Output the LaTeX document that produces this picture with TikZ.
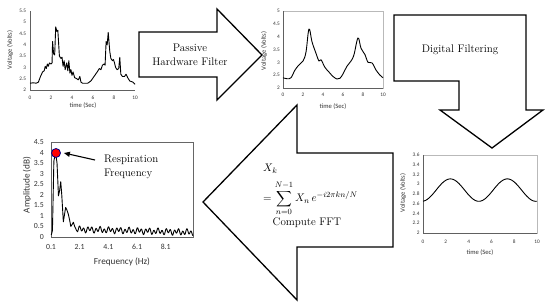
\documentclass[tikz,border=0pt]{standalone}
\usepackage{fontspec}
\setsansfont{Carlito}
\usepackage{amsmath}
\usetikzlibrary{arrows.meta}

\tikzset{
  bigarrow/.style={draw=black, line width=1.3pt, line join=miter},
  signal/.style={line width=0.9pt, line join=round},
  axline/.style={draw=gray!75!black, line width=0.5pt},
  framebox/.style={draw=gray!55, line width=0.6pt},
  ticklab/.style={font=\sffamily\fontsize{5.3}{6}\selectfont, inner sep=0.5pt, text=black!80},
  axtitle/.style={font=\sffamily\fontsize{6.6}{7}\selectfont, inner sep=0pt, text=black!80},
  bigtick/.style={ticklab, font=\sffamily\fontsize{7.8}{8}\selectfont},
  bigtitle/.style={axtitle, font=\sffamily\fontsize{9.2}{10}\selectfont},
  steptext/.style={font=\fontsize{11}{14}\selectfont, align=center, inner sep=0pt},
  mathtext/.style={anchor=west, inner sep=0pt, font=\fontsize{10.8}{13}\selectfont},
}

\begin{document}
\begin{tikzpicture}[x=1pt, y=-1pt]
    \useasboundingbox (0,0) rectangle (550,305);

    % process arrows
    \draw[bigarrow] (139,32) -- (217,32) -- (217,9) -- (262,55) -- (217,100) -- (217,77) -- (139,77) -- cycle;
    \node[steptext] (hwf) at (190,55) {Passive\\Hardware Filter};
    \draw[bigarrow] (394,15) -- (526,15) -- (526,110) -- (543,110) -- (492,148) -- (440,110) -- (459,110) -- (459,81) -- (394,81) -- cycle;
    \node[steptext] (dsp) at (460,50) {Digital Filtering};
    \draw[bigarrow] (393,153) -- (393,247) -- (297,247) -- (297,300) -- (203,202) -- (297,105) -- (297,153) -- cycle;
    \node[mathtext] (xk) at (263,169) {$X_k$};
    \node[mathtext] (dft) at (263,198.5) {$\displaystyle = \sum_{n=0}^{N-1} X_n\, e^{-i2\pi kn/N}$};
    \node[steptext] (fft) at (307,222.5) {Compute FFT};

    % raw signal
    \begin{scope}[shift={(30,135.14)}, x=10.5pt, y=22.57pt]
        \draw[axline] (0,5.5) -- (0,2) -- (10,2);
        \foreach \v [count=\i] in {2,2.5,3,3.5,4,4.5,5,5.5}
            \node[ticklab, anchor=east] (ay\i) at (-0.3,\v) {\v};
        \foreach \t in {0,2,...,10}
            \node[ticklab, anchor=north] (ax\t) at (\t,1.75) {\t};
        \draw[signal] plot coordinates {(0,2.3) (0.3,2.32) (0.6,2.3) (0.8,2.35) (1.0,2.6) (1.2,2.8) (1.35,2.85) (1.45,3.05) (1.55,2.95) (1.65,3.15) (1.75,3.05) (1.85,3.2) (2.0,3.15) (2.1,3.2) (2.15,4.15) (2.25,3.6) (2.35,3.55) (2.45,4.8) (2.55,4.6) (2.65,4.65) (2.8,3.5) (2.95,3.4) (3.05,3.45) (3.15,3.05) (3.25,3.3) (3.35,2.9) (3.5,3.2) (3.6,2.85) (3.7,3.3) (3.8,2.75) (3.9,2.9) (4.0,2.65) (4.1,2.8) (4.25,2.55) (4.45,2.5) (4.6,2.45) (4.75,2.6) (4.85,2.35) (5.0,2.3) (5.5,2.3) (5.8,2.4) (6.1,2.6) (6.4,2.8) (6.6,2.95) (6.75,2.9) (6.9,3.1) (7.05,3.15) (7.15,3.1) (7.25,4.15) (7.35,4.0) (7.45,4.55) (7.6,3.7) (7.7,3.4) (7.85,3.3) (7.95,3.35) (8.05,3.2) (8.15,3.0) (8.3,2.9) (8.45,2.95) (8.55,3.45) (8.65,2.7) (8.8,2.6) (9.0,2.6) (9.15,2.7) (9.3,2.55) (9.5,2.4) (9.8,2.35) (10,2.25)};
    \end{scope}
    \node[axtitle, rotate=90] (ylab1) at (10,50) {Voltage (Volts)};
    \node[axtitle] (xlab1) at (83,106) {time (Sec)};

    % after hardware filter
    \begin{scope}[shift={(283,139.33)}, x=10pt, y=25.67pt]
        \draw[framebox] (0,2) rectangle (10,5);
        \draw[axline] (0,5) -- (0,2) -- (10,2);
        \foreach \v [count=\i] in {2,2.5,3,3.5,4,4.5,5}
            \node[ticklab, anchor=east] (by\i) at (-0.25,\v) {\v};
        \foreach \t in {0,2,...,10}
            \node[ticklab, anchor=north] (bx\t) at (\t,1.84) {\t};
        \draw[signal] plot[smooth, tension=0.6] coordinates {(0,2.4) (0.4,2.36) (0.8,2.4) (1.2,2.7) (1.6,2.9) (2.0,3.05) (2.3,3.4) (2.6,4.3) (2.9,3.8) (3.3,3.35) (3.6,3.05) (3.8,3.1) (4.2,2.8) (4.6,2.62) (5.0,2.45) (5.4,2.35) (5.7,2.38) (6.0,2.55) (6.4,2.85) (6.8,3.05) (7.1,3.3) (7.5,3.95) (7.8,3.55) (8.2,3.3) (8.5,3.0) (8.9,2.98) (9.3,2.7) (9.7,2.5) (10,2.4)};
    \end{scope}
    \node[axtitle, rotate=90] (ylab2) at (264,51) {Voltage (Volts)};
    \node[axtitle] (xlab2) at (333,107) {time (Sec)};

    % after digital filter
    \begin{scope}[shift={(423,330.5)}, x=11.4pt, y=48.75pt]
        \draw[framebox] (0,2) rectangle (10,3.6);
        \draw[axline] (0,3.6) -- (0,2) -- (10,2);
        \foreach \v [count=\i] in {2,2.2,2.4,2.6,2.8,3,3.2,3.4,3.6}
            \node[ticklab, anchor=east] (cy\i) at (-0.25,\v) {\v};
        \foreach \t in {0,2,...,10}
            \node[ticklab, anchor=north] (cx\t) at (\t,1.877) {\t};
        \draw[signal] plot[domain=0:10, samples=80, smooth] (\x, {2.88+0.23*sin(72*(\x-1.15))});
    \end{scope}
    \node[axtitle, rotate=90] (ylab3) at (403,193) {Voltage (Volts)};
    \node[axtitle] (xlab3) at (480,253) {time (Sec)};

    % spectrum
    \begin{scope}[shift={(49.57,237)}, x=14.34pt, y=21.11pt]
        \draw[framebox, draw=gray!80!black] (0.1,0) rectangle (10,4.5);
        \draw[axline] (0.1,4.5) -- (0.1,0) -- (10,0);
        \foreach \v [count=\i] in {0,0.5,1,1.5,2,2.5,3,3.5,4,4.5}
            \node[bigtick, anchor=east] (dy\i) at (-0.35,\v) {\v};
        \foreach \f [count=\i] in {0.1,2.1,4.1,6.1,8.1}
            \node[bigtick, anchor=north] (dx\i) at (\f,-0.3) {\f};
        \draw[signal] (0.12,0.1) -- (0.2,0.3) -- (0.3,3.6) -- (0.42,4.0) -- (0.52,3.5) -- (0.62,1.95) -- (0.7,2.2) -- (0.78,2.62) -- (0.85,2.0) -- (0.96,0.72) -- (1.05,1.1) -- (1.12,1.4) -- (1.2,1.3) -- (1.3,1.1) -- (1.4,0.8) -- (1.48,0.5) -- (1.58,0.6) -- (1.66,0.7) -- (1.75,0.5) -- (1.89,0.3)
            -- plot[domain=1.95:10, samples=200] (\x, {0.40-0.018*\x+0.11*sin(1250*\x)+0.06*sin(530*\x+40)});
    \end{scope}
    \node[bigtitle, rotate=90] (ylab4) at (27,185) {Amplitude (dB)};
    \node[bigtitle] (xlab4) at (122,262) {Frequency (Hz)};

    % respiration peak
    \node[circle, fill=red, draw=blue!55!black, line width=0.8pt, minimum size=9pt, inner sep=0pt] (peak) at (56,153) {};
    \node[steptext, align=left, anchor=west] (resp) at (104,166.5) {Respiration\\Frequency};
    \coordinate (resptail) at (95,160);
    \draw[line width=1.1pt, -{Triangle[length=6pt, width=5pt]}] (resptail) -- ([xshift=3pt]peak.east);
\end{tikzpicture}
\end{document}
